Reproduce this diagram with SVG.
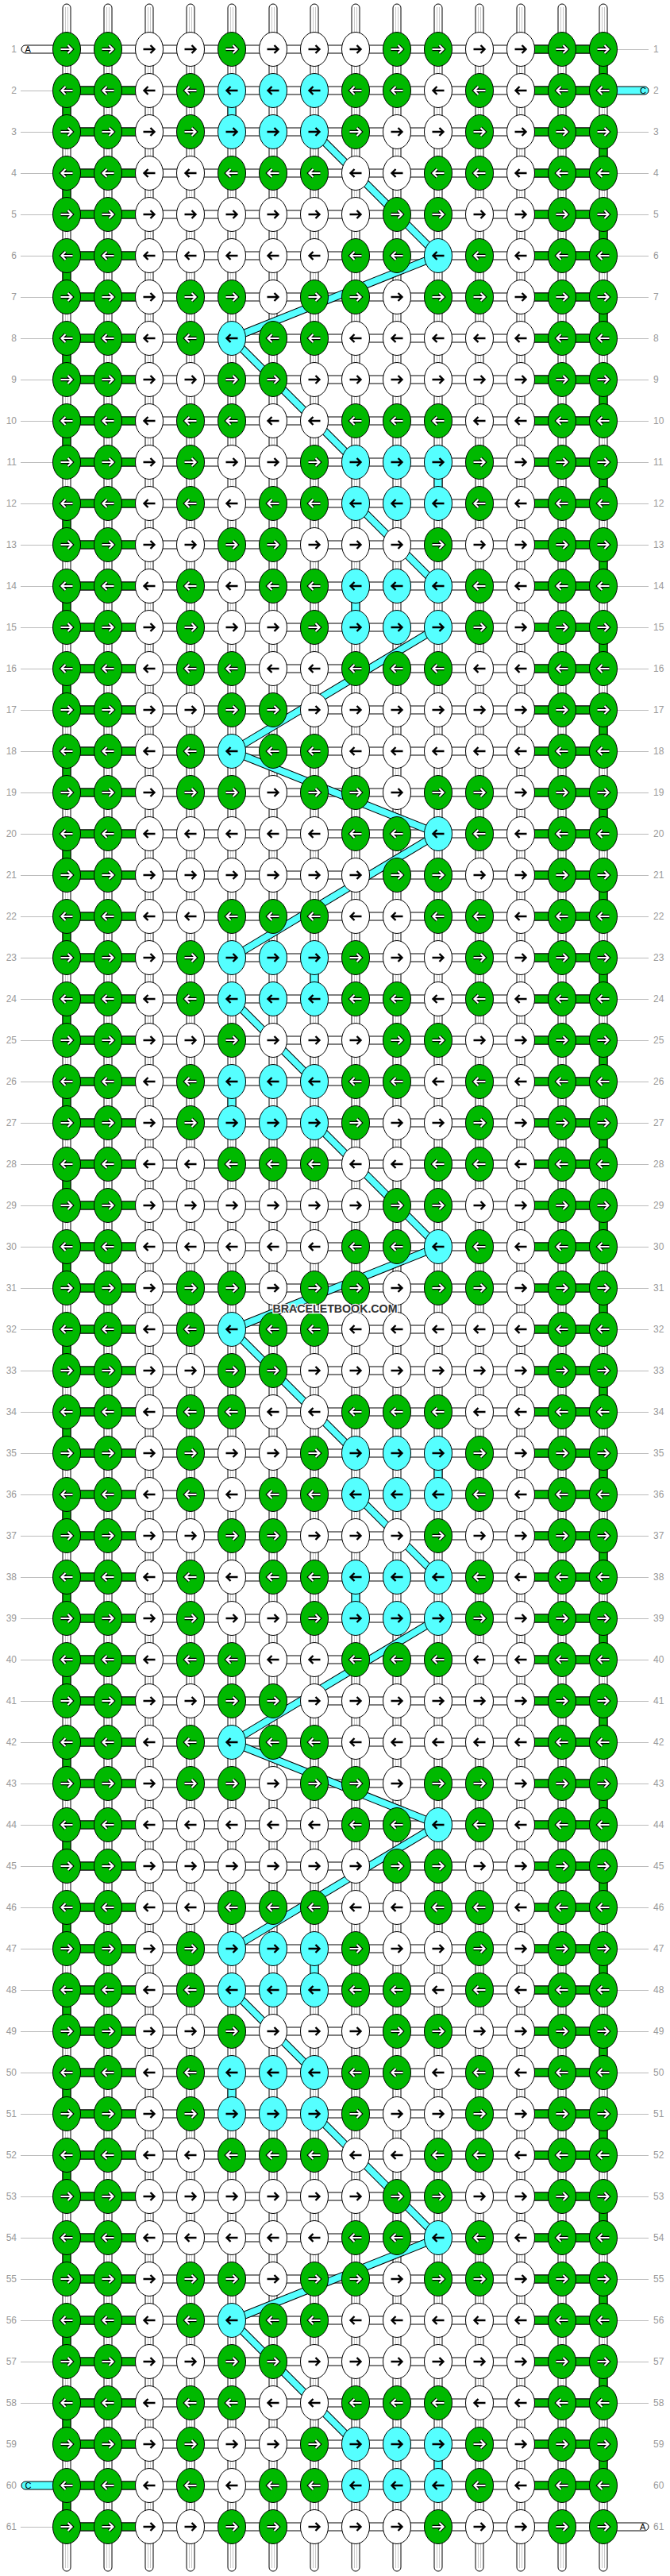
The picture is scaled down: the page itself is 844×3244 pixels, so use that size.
<svg xmlns="http://www.w3.org/2000/svg" xmlns:xlink="http://www.w3.org/1999/xlink" width="844" height="3244" viewBox="0 0 844 3244">
<style>
.kg{fill:#00b900;stroke:#000;stroke-width:1}
.kw{fill:#fff;stroke:#000;stroke-width:1}
.kc{fill:#55ffff;stroke:#000;stroke-width:1}
.ab{fill:none;stroke:#000;stroke-width:2.4}
.ao{fill:none;stroke:#000;stroke-width:4.4}
.ai{fill:none;stroke:#fff;stroke-width:2.2}
.n{font-family:"Liberation Sans",Arial,sans-serif;font-size:12px;fill:#999}
.p{font-family:"Liberation Sans",Arial,sans-serif;font-size:11px;fill:#000}
.gl{stroke:#bbb;stroke-width:1;fill:none}
</style>
<defs>
<path id="a" d="M-7.5,0H6M1.5,-5L6.5,0L1.5,5"/>
<g id="G"><ellipse class="kg" rx="17.5" ry="21.5"/><use href="#a" class="ao"/><use href="#a" class="ai"/></g>
<g id="g"><ellipse class="kg" rx="17.5" ry="21.5"/><g transform="scale(-1,1)"><use href="#a" class="ao"/><use href="#a" class="ai"/></g></g>
<g id="W"><ellipse class="kw" rx="17.5" ry="21.5"/><use href="#a" class="ab"/></g>
<g id="w"><ellipse class="kw" rx="17.5" ry="21.5"/><use href="#a" class="ab" transform="scale(-1,1)"/></g>
<g id="C"><ellipse class="kc" rx="17.5" ry="21.5"/><use href="#a" class="ab"/></g>
<g id="c"><ellipse class="kc" rx="17.5" ry="21.5"/><use href="#a" class="ab" transform="scale(-1,1)"/></g>
<g id="vs"><rect x="-5" y="5" width="10" height="3233" rx="5" fill="#fff" stroke="#000"/><path d="M-1.5,9V3234M1.5,9V3234" stroke="#c8c8c8" stroke-width="1"/></g>
<path id="dg" d="M396,166L552,322L292,426L448,582M448,634L552,738M552,790L292,946L552,1050L292,1206M292,1258L396,1362M396,1414L552,1570L292,1674L448,1830M448,1882L552,1986M552,2038L292,2194L552,2298L292,2454M292,2506L396,2610M396,2662L552,2818L292,2922L448,3078" fill="none" stroke-linejoin="round"/>
</defs>
<g id="connectors">
<g id="vertical-strings">
<use href="#vs" x="84"/><use href="#vs" x="136"/><use href="#vs" x="188"/><use href="#vs" x="240"/><use href="#vs" x="292"/><use href="#vs" x="344"/><use href="#vs" x="396"/><use href="#vs" x="448"/><use href="#vs" x="500"/><use href="#vs" x="552"/><use href="#vs" x="604"/><use href="#vs" x="656"/><use href="#vs" x="708"/><use href="#vs" x="760"/>
</g>
<path id="v-green-left" fill="#00b900" stroke="#000" d="M79,114h10v52h-10z m0,104h10v52h-10z m0,104h10v52h-10z m0,104h10v52h-10z m0,104h10v52h-10z m0,104h10v52h-10z m0,104h10v52h-10z m0,104h10v52h-10z m0,104h10v52h-10z m0,104h10v52h-10z m0,104h10v52h-10z m0,104h10v52h-10z m0,104h10v52h-10z m0,104h10v52h-10z m0,104h10v52h-10z m0,104h10v52h-10z m0,104h10v52h-10z m0,104h10v52h-10z m0,104h10v52h-10z m0,104h10v52h-10z m0,104h10v52h-10z m0,104h10v52h-10z m0,104h10v52h-10z m0,104h10v52h-10z m0,104h10v52h-10z m0,104h10v52h-10z m0,104h10v52h-10z m0,104h10v52h-10z m0,104h10v52h-10z m0,104h10v52h-10z"/>
<path id="v-green-right" fill="#00b900" stroke="#000" d="M755,62h10v52h-10z m0,104h10v52h-10z m0,104h10v52h-10z m0,104h10v52h-10z m0,104h10v52h-10z m0,104h10v52h-10z m0,104h10v52h-10z m0,104h10v52h-10z m0,104h10v52h-10z m0,104h10v52h-10z m0,104h10v52h-10z m0,104h10v52h-10z m0,104h10v52h-10z m0,104h10v52h-10z m0,104h10v52h-10z m0,104h10v52h-10z m0,104h10v52h-10z m0,104h10v52h-10z m0,104h10v52h-10z m0,104h10v52h-10z m0,104h10v52h-10z m0,104h10v52h-10z m0,104h10v52h-10z m0,104h10v52h-10z m0,104h10v52h-10z m0,104h10v52h-10z m0,104h10v52h-10z m0,104h10v52h-10z m0,104h10v52h-10z m0,104h10v52h-10z"/>
<path id="v-cyan" fill="#55ffff" stroke="#000" d="M287,114h10v52h-10z M287,1362h10v52h-10z M287,2610h10v52h-10z M547,582h10v52h-10z M547,1830h10v52h-10z M547,3078h10v52h-10z M443,738h10v52h-10z M443,1986h10v52h-10z M391,1206h10v52h-10z M391,2454h10v52h-10z"/>
<path id="horizontal-strings" fill="#fff" stroke="#000" d="M84,57h676v10h-676z m0,52h676v10h-676z m0,52h676v10h-676z m0,52h676v10h-676z m0,52h676v10h-676z m0,52h676v10h-676z m0,52h676v10h-676z m0,52h676v10h-676z m0,52h676v10h-676z m0,52h676v10h-676z m0,52h676v10h-676z m0,52h676v10h-676z m0,52h676v10h-676z m0,52h676v10h-676z m0,52h676v10h-676z m0,52h676v10h-676z m0,52h676v10h-676z m0,52h676v10h-676z m0,52h676v10h-676z m0,52h676v10h-676z m0,52h676v10h-676z m0,52h676v10h-676z m0,52h676v10h-676z m0,52h676v10h-676z m0,52h676v10h-676z m0,52h676v10h-676z m0,52h676v10h-676z m0,52h676v10h-676z m0,52h676v10h-676z m0,52h676v10h-676z m0,52h676v10h-676z m0,52h676v10h-676z m0,52h676v10h-676z m0,52h676v10h-676z m0,52h676v10h-676z m0,52h676v10h-676z m0,52h676v10h-676z m0,52h676v10h-676z m0,52h676v10h-676z m0,52h676v10h-676z m0,52h676v10h-676z m0,52h676v10h-676z m0,52h676v10h-676z m0,52h676v10h-676z m0,52h676v10h-676z m0,52h676v10h-676z m0,52h676v10h-676z m0,52h676v10h-676z m0,52h676v10h-676z m0,52h676v10h-676z m0,52h676v10h-676z m0,52h676v10h-676z m0,52h676v10h-676z m0,52h676v10h-676z m0,52h676v10h-676z m0,52h676v10h-676z m0,52h676v10h-676z m0,52h676v10h-676z m0,52h676v10h-676z m0,52h676v10h-676z m0,52h676v10h-676z"/>
<path id="h-green-left" fill="#00b900" stroke="#000" d="M84,109h104v10h-104z m0,52h104v10h-104z m0,52h104v10h-104z m0,52h104v10h-104z m0,52h104v10h-104z m0,52h104v10h-104z m0,52h104v10h-104z m0,52h104v10h-104z m0,52h104v10h-104z m0,52h104v10h-104z m0,52h104v10h-104z m0,52h104v10h-104z m0,52h104v10h-104z m0,52h104v10h-104z m0,52h104v10h-104z m0,52h104v10h-104z m0,52h104v10h-104z m0,52h104v10h-104z m0,52h104v10h-104z m0,52h104v10h-104z m0,52h104v10h-104z m0,52h104v10h-104z m0,52h104v10h-104z m0,52h104v10h-104z m0,52h104v10h-104z m0,52h104v10h-104z m0,52h104v10h-104z m0,52h104v10h-104z m0,52h104v10h-104z m0,52h104v10h-104z m0,52h104v10h-104z m0,52h104v10h-104z m0,52h104v10h-104z m0,52h104v10h-104z m0,52h104v10h-104z m0,52h104v10h-104z m0,52h104v10h-104z m0,52h104v10h-104z m0,52h104v10h-104z m0,52h104v10h-104z m0,52h104v10h-104z m0,52h104v10h-104z m0,52h104v10h-104z m0,52h104v10h-104z m0,52h104v10h-104z m0,52h104v10h-104z m0,52h104v10h-104z m0,52h104v10h-104z m0,52h104v10h-104z m0,52h104v10h-104z m0,52h104v10h-104z m0,52h104v10h-104z m0,52h104v10h-104z m0,52h104v10h-104z m0,52h104v10h-104z m0,52h104v10h-104z m0,52h104v10h-104z m0,52h104v10h-104z m0,52h104v10h-104z m0,52h104v10h-104z"/>
<path id="h-green-right" fill="#00b900" stroke="#000" d="M656,57h104v10h-104z m0,52h104v10h-104z m0,52h104v10h-104z m0,52h104v10h-104z m0,52h104v10h-104z m0,52h104v10h-104z m0,52h104v10h-104z m0,52h104v10h-104z m0,52h104v10h-104z m0,52h104v10h-104z m0,52h104v10h-104z m0,52h104v10h-104z m0,52h104v10h-104z m0,52h104v10h-104z m0,52h104v10h-104z m0,52h104v10h-104z m0,52h104v10h-104z m0,52h104v10h-104z m0,52h104v10h-104z m0,52h104v10h-104z m0,52h104v10h-104z m0,52h104v10h-104z m0,52h104v10h-104z m0,52h104v10h-104z m0,52h104v10h-104z m0,52h104v10h-104z m0,52h104v10h-104z m0,52h104v10h-104z m0,52h104v10h-104z m0,52h104v10h-104z m0,52h104v10h-104z m0,52h104v10h-104z m0,52h104v10h-104z m0,52h104v10h-104z m0,52h104v10h-104z m0,52h104v10h-104z m0,52h104v10h-104z m0,52h104v10h-104z m0,52h104v10h-104z m0,52h104v10h-104z m0,52h104v10h-104z m0,52h104v10h-104z m0,52h104v10h-104z m0,52h104v10h-104z m0,52h104v10h-104z m0,52h104v10h-104z m0,52h104v10h-104z m0,52h104v10h-104z m0,52h104v10h-104z m0,52h104v10h-104z m0,52h104v10h-104z m0,52h104v10h-104z m0,52h104v10h-104z m0,52h104v10h-104z m0,52h104v10h-104z m0,52h104v10h-104z m0,52h104v10h-104z m0,52h104v10h-104z m0,52h104v10h-104z m0,52h104v10h-104z"/>
<path id="row-lines-left" class="gl" d="M26,114.5h41 m-41,52h41 m-41,52h41 m-41,52h41 m-41,52h41 m-41,52h41 m-41,52h41 m-41,52h41 m-41,52h41 m-41,52h41 m-41,52h41 m-41,52h41 m-41,52h41 m-41,52h41 m-41,52h41 m-41,52h41 m-41,52h41 m-41,52h41 m-41,52h41 m-41,52h41 m-41,52h41 m-41,52h41 m-41,52h41 m-41,52h41 m-41,52h41 m-41,52h41 m-41,52h41 m-41,52h41 m-41,52h41 m-41,52h41 m-41,52h41 m-41,52h41 m-41,52h41 m-41,52h41 m-41,52h41 m-41,52h41 m-41,52h41 m-41,52h41 m-41,52h41 m-41,52h41 m-41,52h41 m-41,52h41 m-41,52h41 m-41,52h41 m-41,52h41 m-41,52h41 m-41,52h41 m-41,52h41 m-41,52h41 m-41,52h41 m-41,52h41 m-41,52h41 m-41,52h41 m-41,52h41 m-41,52h41 m-41,52h41 m-41,52h41 M26,3182.5h41"/>
<path id="row-lines-right" class="gl" d="M777,62.5h40 M777,166.5h40 m-40,52h40 m-40,52h40 m-40,52h40 m-40,52h40 m-40,52h40 m-40,52h40 m-40,52h40 m-40,52h40 m-40,52h40 m-40,52h40 m-40,52h40 m-40,52h40 m-40,52h40 m-40,52h40 m-40,52h40 m-40,52h40 m-40,52h40 m-40,52h40 m-40,52h40 m-40,52h40 m-40,52h40 m-40,52h40 m-40,52h40 m-40,52h40 m-40,52h40 m-40,52h40 m-40,52h40 m-40,52h40 m-40,52h40 m-40,52h40 m-40,52h40 m-40,52h40 m-40,52h40 m-40,52h40 m-40,52h40 m-40,52h40 m-40,52h40 m-40,52h40 m-40,52h40 m-40,52h40 m-40,52h40 m-40,52h40 m-40,52h40 m-40,52h40 m-40,52h40 m-40,52h40 m-40,52h40 m-40,52h40 m-40,52h40 m-40,52h40 m-40,52h40 m-40,52h40 m-40,52h40 m-40,52h40 m-40,52h40"/>
<g id="string-ends">
<path d="M84,57H32a5,5 0 0 0 0,10H84z" fill="#fff" stroke="#000"/><text class="p" x="31.5" y="66">A</text>
<path d="M760,109H812a5,5 0 0 1 0,10H760z" fill="#55ffff" stroke="#000"/><text class="p" x="806" y="118">C</text>
<path d="M84,3125H32a5,5 0 0 0 0,10H84z" fill="#55ffff" stroke="#000"/><text class="p" x="31.5" y="3134">C</text>
<path d="M760,3177H812a5,5 0 0 1 0,10H760z" fill="#fff" stroke="#000"/><text class="p" x="806" y="3186">A</text>
</g>
<g id="cyan-floats"><use href="#dg" stroke="#000" stroke-width="10"/><use href="#dg" stroke="#55ffff" stroke-width="8"/></g>
</g>
<g id="knots">
<g id="row1" transform="translate(0,62)"><use id="k1-1" href="#G" x="84"/><use id="k1-2" href="#G" x="136"/><use id="k1-3" href="#W" x="188"/><use id="k1-4" href="#W" x="240"/><use id="k1-5" href="#G" x="292"/><use id="k1-6" href="#W" x="344"/><use id="k1-7" href="#W" x="396"/><use id="k1-8" href="#W" x="448"/><use id="k1-9" href="#G" x="500"/><use id="k1-10" href="#G" x="552"/><use id="k1-11" href="#W" x="604"/><use id="k1-12" href="#W" x="656"/><use id="k1-13" href="#G" x="708"/><use id="k1-14" href="#G" x="760"/></g>
<g id="row2" transform="translate(0,114)"><use id="k2-1" href="#g" x="84"/><use id="k2-2" href="#g" x="136"/><use id="k2-3" href="#w" x="188"/><use id="k2-4" href="#g" x="240"/><use id="k2-5" href="#c" x="292"/><use id="k2-6" href="#c" x="344"/><use id="k2-7" href="#c" x="396"/><use id="k2-8" href="#g" x="448"/><use id="k2-9" href="#g" x="500"/><use id="k2-10" href="#w" x="552"/><use id="k2-11" href="#g" x="604"/><use id="k2-12" href="#w" x="656"/><use id="k2-13" href="#g" x="708"/><use id="k2-14" href="#g" x="760"/></g>
<g id="row3" transform="translate(0,166)"><use id="k3-1" href="#G" x="84"/><use id="k3-2" href="#G" x="136"/><use id="k3-3" href="#W" x="188"/><use id="k3-4" href="#G" x="240"/><use id="k3-5" href="#C" x="292"/><use id="k3-6" href="#C" x="344"/><use id="k3-7" href="#C" x="396"/><use id="k3-8" href="#G" x="448"/><use id="k3-9" href="#W" x="500"/><use id="k3-10" href="#W" x="552"/><use id="k3-11" href="#G" x="604"/><use id="k3-12" href="#W" x="656"/><use id="k3-13" href="#G" x="708"/><use id="k3-14" href="#G" x="760"/></g>
<g id="row4" transform="translate(0,218)"><use id="k4-1" href="#g" x="84"/><use id="k4-2" href="#g" x="136"/><use id="k4-3" href="#w" x="188"/><use id="k4-4" href="#w" x="240"/><use id="k4-5" href="#g" x="292"/><use id="k4-6" href="#g" x="344"/><use id="k4-7" href="#g" x="396"/><use id="k4-8" href="#w" x="448"/><use id="k4-9" href="#w" x="500"/><use id="k4-10" href="#g" x="552"/><use id="k4-11" href="#g" x="604"/><use id="k4-12" href="#w" x="656"/><use id="k4-13" href="#g" x="708"/><use id="k4-14" href="#g" x="760"/></g>
<g id="row5" transform="translate(0,270)"><use id="k5-1" href="#G" x="84"/><use id="k5-2" href="#G" x="136"/><use id="k5-3" href="#W" x="188"/><use id="k5-4" href="#W" x="240"/><use id="k5-5" href="#W" x="292"/><use id="k5-6" href="#W" x="344"/><use id="k5-7" href="#W" x="396"/><use id="k5-8" href="#W" x="448"/><use id="k5-9" href="#G" x="500"/><use id="k5-10" href="#G" x="552"/><use id="k5-11" href="#W" x="604"/><use id="k5-12" href="#W" x="656"/><use id="k5-13" href="#G" x="708"/><use id="k5-14" href="#G" x="760"/></g>
<g id="row6" transform="translate(0,322)"><use id="k6-1" href="#g" x="84"/><use id="k6-2" href="#g" x="136"/><use id="k6-3" href="#w" x="188"/><use id="k6-4" href="#w" x="240"/><use id="k6-5" href="#w" x="292"/><use id="k6-6" href="#w" x="344"/><use id="k6-7" href="#w" x="396"/><use id="k6-8" href="#g" x="448"/><use id="k6-9" href="#g" x="500"/><use id="k6-10" href="#c" x="552"/><use id="k6-11" href="#g" x="604"/><use id="k6-12" href="#w" x="656"/><use id="k6-13" href="#g" x="708"/><use id="k6-14" href="#g" x="760"/></g>
<g id="row7" transform="translate(0,374)"><use id="k7-1" href="#G" x="84"/><use id="k7-2" href="#G" x="136"/><use id="k7-3" href="#W" x="188"/><use id="k7-4" href="#G" x="240"/><use id="k7-5" href="#G" x="292"/><use id="k7-6" href="#W" x="344"/><use id="k7-7" href="#G" x="396"/><use id="k7-8" href="#G" x="448"/><use id="k7-9" href="#W" x="500"/><use id="k7-10" href="#G" x="552"/><use id="k7-11" href="#G" x="604"/><use id="k7-12" href="#W" x="656"/><use id="k7-13" href="#G" x="708"/><use id="k7-14" href="#G" x="760"/></g>
<g id="row8" transform="translate(0,426)"><use id="k8-1" href="#g" x="84"/><use id="k8-2" href="#g" x="136"/><use id="k8-3" href="#w" x="188"/><use id="k8-4" href="#g" x="240"/><use id="k8-5" href="#c" x="292"/><use id="k8-6" href="#g" x="344"/><use id="k8-7" href="#g" x="396"/><use id="k8-8" href="#w" x="448"/><use id="k8-9" href="#w" x="500"/><use id="k8-10" href="#w" x="552"/><use id="k8-11" href="#w" x="604"/><use id="k8-12" href="#w" x="656"/><use id="k8-13" href="#g" x="708"/><use id="k8-14" href="#g" x="760"/></g>
<g id="row9" transform="translate(0,478)"><use id="k9-1" href="#G" x="84"/><use id="k9-2" href="#G" x="136"/><use id="k9-3" href="#W" x="188"/><use id="k9-4" href="#W" x="240"/><use id="k9-5" href="#G" x="292"/><use id="k9-6" href="#G" x="344"/><use id="k9-7" href="#W" x="396"/><use id="k9-8" href="#W" x="448"/><use id="k9-9" href="#W" x="500"/><use id="k9-10" href="#W" x="552"/><use id="k9-11" href="#W" x="604"/><use id="k9-12" href="#W" x="656"/><use id="k9-13" href="#G" x="708"/><use id="k9-14" href="#G" x="760"/></g>
<g id="row10" transform="translate(0,530)"><use id="k10-1" href="#g" x="84"/><use id="k10-2" href="#g" x="136"/><use id="k10-3" href="#w" x="188"/><use id="k10-4" href="#g" x="240"/><use id="k10-5" href="#g" x="292"/><use id="k10-6" href="#w" x="344"/><use id="k10-7" href="#w" x="396"/><use id="k10-8" href="#g" x="448"/><use id="k10-9" href="#g" x="500"/><use id="k10-10" href="#g" x="552"/><use id="k10-11" href="#w" x="604"/><use id="k10-12" href="#w" x="656"/><use id="k10-13" href="#g" x="708"/><use id="k10-14" href="#g" x="760"/></g>
<g id="row11" transform="translate(0,582)"><use id="k11-1" href="#G" x="84"/><use id="k11-2" href="#G" x="136"/><use id="k11-3" href="#W" x="188"/><use id="k11-4" href="#G" x="240"/><use id="k11-5" href="#W" x="292"/><use id="k11-6" href="#W" x="344"/><use id="k11-7" href="#G" x="396"/><use id="k11-8" href="#C" x="448"/><use id="k11-9" href="#C" x="500"/><use id="k11-10" href="#C" x="552"/><use id="k11-11" href="#G" x="604"/><use id="k11-12" href="#W" x="656"/><use id="k11-13" href="#G" x="708"/><use id="k11-14" href="#G" x="760"/></g>
<g id="row12" transform="translate(0,634)"><use id="k12-1" href="#g" x="84"/><use id="k12-2" href="#g" x="136"/><use id="k12-3" href="#w" x="188"/><use id="k12-4" href="#g" x="240"/><use id="k12-5" href="#w" x="292"/><use id="k12-6" href="#g" x="344"/><use id="k12-7" href="#g" x="396"/><use id="k12-8" href="#c" x="448"/><use id="k12-9" href="#c" x="500"/><use id="k12-10" href="#c" x="552"/><use id="k12-11" href="#g" x="604"/><use id="k12-12" href="#w" x="656"/><use id="k12-13" href="#g" x="708"/><use id="k12-14" href="#g" x="760"/></g>
<g id="row13" transform="translate(0,686)"><use id="k13-1" href="#G" x="84"/><use id="k13-2" href="#G" x="136"/><use id="k13-3" href="#W" x="188"/><use id="k13-4" href="#W" x="240"/><use id="k13-5" href="#G" x="292"/><use id="k13-6" href="#G" x="344"/><use id="k13-7" href="#W" x="396"/><use id="k13-8" href="#W" x="448"/><use id="k13-9" href="#W" x="500"/><use id="k13-10" href="#G" x="552"/><use id="k13-11" href="#W" x="604"/><use id="k13-12" href="#W" x="656"/><use id="k13-13" href="#G" x="708"/><use id="k13-14" href="#G" x="760"/></g>
<g id="row14" transform="translate(0,738)"><use id="k14-1" href="#g" x="84"/><use id="k14-2" href="#g" x="136"/><use id="k14-3" href="#w" x="188"/><use id="k14-4" href="#g" x="240"/><use id="k14-5" href="#w" x="292"/><use id="k14-6" href="#g" x="344"/><use id="k14-7" href="#g" x="396"/><use id="k14-8" href="#c" x="448"/><use id="k14-9" href="#c" x="500"/><use id="k14-10" href="#c" x="552"/><use id="k14-11" href="#g" x="604"/><use id="k14-12" href="#w" x="656"/><use id="k14-13" href="#g" x="708"/><use id="k14-14" href="#g" x="760"/></g>
<g id="row15" transform="translate(0,790)"><use id="k15-1" href="#G" x="84"/><use id="k15-2" href="#G" x="136"/><use id="k15-3" href="#W" x="188"/><use id="k15-4" href="#G" x="240"/><use id="k15-5" href="#W" x="292"/><use id="k15-6" href="#W" x="344"/><use id="k15-7" href="#G" x="396"/><use id="k15-8" href="#C" x="448"/><use id="k15-9" href="#C" x="500"/><use id="k15-10" href="#C" x="552"/><use id="k15-11" href="#G" x="604"/><use id="k15-12" href="#W" x="656"/><use id="k15-13" href="#G" x="708"/><use id="k15-14" href="#G" x="760"/></g>
<g id="row16" transform="translate(0,842)"><use id="k16-1" href="#g" x="84"/><use id="k16-2" href="#g" x="136"/><use id="k16-3" href="#w" x="188"/><use id="k16-4" href="#g" x="240"/><use id="k16-5" href="#g" x="292"/><use id="k16-6" href="#w" x="344"/><use id="k16-7" href="#w" x="396"/><use id="k16-8" href="#g" x="448"/><use id="k16-9" href="#g" x="500"/><use id="k16-10" href="#g" x="552"/><use id="k16-11" href="#w" x="604"/><use id="k16-12" href="#w" x="656"/><use id="k16-13" href="#g" x="708"/><use id="k16-14" href="#g" x="760"/></g>
<g id="row17" transform="translate(0,894)"><use id="k17-1" href="#G" x="84"/><use id="k17-2" href="#G" x="136"/><use id="k17-3" href="#W" x="188"/><use id="k17-4" href="#W" x="240"/><use id="k17-5" href="#G" x="292"/><use id="k17-6" href="#G" x="344"/><use id="k17-7" href="#W" x="396"/><use id="k17-8" href="#W" x="448"/><use id="k17-9" href="#W" x="500"/><use id="k17-10" href="#W" x="552"/><use id="k17-11" href="#W" x="604"/><use id="k17-12" href="#W" x="656"/><use id="k17-13" href="#G" x="708"/><use id="k17-14" href="#G" x="760"/></g>
<g id="row18" transform="translate(0,946)"><use id="k18-1" href="#g" x="84"/><use id="k18-2" href="#g" x="136"/><use id="k18-3" href="#w" x="188"/><use id="k18-4" href="#g" x="240"/><use id="k18-5" href="#c" x="292"/><use id="k18-6" href="#g" x="344"/><use id="k18-7" href="#g" x="396"/><use id="k18-8" href="#w" x="448"/><use id="k18-9" href="#w" x="500"/><use id="k18-10" href="#w" x="552"/><use id="k18-11" href="#w" x="604"/><use id="k18-12" href="#w" x="656"/><use id="k18-13" href="#g" x="708"/><use id="k18-14" href="#g" x="760"/></g>
<g id="row19" transform="translate(0,998)"><use id="k19-1" href="#G" x="84"/><use id="k19-2" href="#G" x="136"/><use id="k19-3" href="#W" x="188"/><use id="k19-4" href="#G" x="240"/><use id="k19-5" href="#G" x="292"/><use id="k19-6" href="#W" x="344"/><use id="k19-7" href="#G" x="396"/><use id="k19-8" href="#G" x="448"/><use id="k19-9" href="#W" x="500"/><use id="k19-10" href="#G" x="552"/><use id="k19-11" href="#G" x="604"/><use id="k19-12" href="#W" x="656"/><use id="k19-13" href="#G" x="708"/><use id="k19-14" href="#G" x="760"/></g>
<g id="row20" transform="translate(0,1050)"><use id="k20-1" href="#g" x="84"/><use id="k20-2" href="#g" x="136"/><use id="k20-3" href="#w" x="188"/><use id="k20-4" href="#w" x="240"/><use id="k20-5" href="#w" x="292"/><use id="k20-6" href="#w" x="344"/><use id="k20-7" href="#w" x="396"/><use id="k20-8" href="#g" x="448"/><use id="k20-9" href="#g" x="500"/><use id="k20-10" href="#c" x="552"/><use id="k20-11" href="#g" x="604"/><use id="k20-12" href="#w" x="656"/><use id="k20-13" href="#g" x="708"/><use id="k20-14" href="#g" x="760"/></g>
<g id="row21" transform="translate(0,1102)"><use id="k21-1" href="#G" x="84"/><use id="k21-2" href="#G" x="136"/><use id="k21-3" href="#W" x="188"/><use id="k21-4" href="#W" x="240"/><use id="k21-5" href="#W" x="292"/><use id="k21-6" href="#W" x="344"/><use id="k21-7" href="#W" x="396"/><use id="k21-8" href="#W" x="448"/><use id="k21-9" href="#G" x="500"/><use id="k21-10" href="#G" x="552"/><use id="k21-11" href="#W" x="604"/><use id="k21-12" href="#W" x="656"/><use id="k21-13" href="#G" x="708"/><use id="k21-14" href="#G" x="760"/></g>
<g id="row22" transform="translate(0,1154)"><use id="k22-1" href="#g" x="84"/><use id="k22-2" href="#g" x="136"/><use id="k22-3" href="#w" x="188"/><use id="k22-4" href="#w" x="240"/><use id="k22-5" href="#g" x="292"/><use id="k22-6" href="#g" x="344"/><use id="k22-7" href="#g" x="396"/><use id="k22-8" href="#w" x="448"/><use id="k22-9" href="#w" x="500"/><use id="k22-10" href="#g" x="552"/><use id="k22-11" href="#g" x="604"/><use id="k22-12" href="#w" x="656"/><use id="k22-13" href="#g" x="708"/><use id="k22-14" href="#g" x="760"/></g>
<g id="row23" transform="translate(0,1206)"><use id="k23-1" href="#G" x="84"/><use id="k23-2" href="#G" x="136"/><use id="k23-3" href="#W" x="188"/><use id="k23-4" href="#G" x="240"/><use id="k23-5" href="#C" x="292"/><use id="k23-6" href="#C" x="344"/><use id="k23-7" href="#C" x="396"/><use id="k23-8" href="#G" x="448"/><use id="k23-9" href="#W" x="500"/><use id="k23-10" href="#W" x="552"/><use id="k23-11" href="#G" x="604"/><use id="k23-12" href="#W" x="656"/><use id="k23-13" href="#G" x="708"/><use id="k23-14" href="#G" x="760"/></g>
<g id="row24" transform="translate(0,1258)"><use id="k24-1" href="#g" x="84"/><use id="k24-2" href="#g" x="136"/><use id="k24-3" href="#w" x="188"/><use id="k24-4" href="#g" x="240"/><use id="k24-5" href="#c" x="292"/><use id="k24-6" href="#c" x="344"/><use id="k24-7" href="#c" x="396"/><use id="k24-8" href="#g" x="448"/><use id="k24-9" href="#g" x="500"/><use id="k24-10" href="#w" x="552"/><use id="k24-11" href="#g" x="604"/><use id="k24-12" href="#w" x="656"/><use id="k24-13" href="#g" x="708"/><use id="k24-14" href="#g" x="760"/></g>
<g id="row25" transform="translate(0,1310)"><use id="k25-1" href="#G" x="84"/><use id="k25-2" href="#G" x="136"/><use id="k25-3" href="#W" x="188"/><use id="k25-4" href="#W" x="240"/><use id="k25-5" href="#G" x="292"/><use id="k25-6" href="#W" x="344"/><use id="k25-7" href="#W" x="396"/><use id="k25-8" href="#W" x="448"/><use id="k25-9" href="#G" x="500"/><use id="k25-10" href="#G" x="552"/><use id="k25-11" href="#W" x="604"/><use id="k25-12" href="#W" x="656"/><use id="k25-13" href="#G" x="708"/><use id="k25-14" href="#G" x="760"/></g>
<g id="row26" transform="translate(0,1362)"><use id="k26-1" href="#g" x="84"/><use id="k26-2" href="#g" x="136"/><use id="k26-3" href="#w" x="188"/><use id="k26-4" href="#g" x="240"/><use id="k26-5" href="#c" x="292"/><use id="k26-6" href="#c" x="344"/><use id="k26-7" href="#c" x="396"/><use id="k26-8" href="#g" x="448"/><use id="k26-9" href="#g" x="500"/><use id="k26-10" href="#w" x="552"/><use id="k26-11" href="#g" x="604"/><use id="k26-12" href="#w" x="656"/><use id="k26-13" href="#g" x="708"/><use id="k26-14" href="#g" x="760"/></g>
<g id="row27" transform="translate(0,1414)"><use id="k27-1" href="#G" x="84"/><use id="k27-2" href="#G" x="136"/><use id="k27-3" href="#W" x="188"/><use id="k27-4" href="#G" x="240"/><use id="k27-5" href="#C" x="292"/><use id="k27-6" href="#C" x="344"/><use id="k27-7" href="#C" x="396"/><use id="k27-8" href="#G" x="448"/><use id="k27-9" href="#W" x="500"/><use id="k27-10" href="#W" x="552"/><use id="k27-11" href="#G" x="604"/><use id="k27-12" href="#W" x="656"/><use id="k27-13" href="#G" x="708"/><use id="k27-14" href="#G" x="760"/></g>
<g id="row28" transform="translate(0,1466)"><use id="k28-1" href="#g" x="84"/><use id="k28-2" href="#g" x="136"/><use id="k28-3" href="#w" x="188"/><use id="k28-4" href="#w" x="240"/><use id="k28-5" href="#g" x="292"/><use id="k28-6" href="#g" x="344"/><use id="k28-7" href="#g" x="396"/><use id="k28-8" href="#w" x="448"/><use id="k28-9" href="#w" x="500"/><use id="k28-10" href="#g" x="552"/><use id="k28-11" href="#g" x="604"/><use id="k28-12" href="#w" x="656"/><use id="k28-13" href="#g" x="708"/><use id="k28-14" href="#g" x="760"/></g>
<g id="row29" transform="translate(0,1518)"><use id="k29-1" href="#G" x="84"/><use id="k29-2" href="#G" x="136"/><use id="k29-3" href="#W" x="188"/><use id="k29-4" href="#W" x="240"/><use id="k29-5" href="#W" x="292"/><use id="k29-6" href="#W" x="344"/><use id="k29-7" href="#W" x="396"/><use id="k29-8" href="#W" x="448"/><use id="k29-9" href="#G" x="500"/><use id="k29-10" href="#G" x="552"/><use id="k29-11" href="#W" x="604"/><use id="k29-12" href="#W" x="656"/><use id="k29-13" href="#G" x="708"/><use id="k29-14" href="#G" x="760"/></g>
<g id="row30" transform="translate(0,1570)"><use id="k30-1" href="#g" x="84"/><use id="k30-2" href="#g" x="136"/><use id="k30-3" href="#w" x="188"/><use id="k30-4" href="#w" x="240"/><use id="k30-5" href="#w" x="292"/><use id="k30-6" href="#w" x="344"/><use id="k30-7" href="#w" x="396"/><use id="k30-8" href="#g" x="448"/><use id="k30-9" href="#g" x="500"/><use id="k30-10" href="#c" x="552"/><use id="k30-11" href="#g" x="604"/><use id="k30-12" href="#w" x="656"/><use id="k30-13" href="#g" x="708"/><use id="k30-14" href="#g" x="760"/></g>
<g id="row31" transform="translate(0,1622)"><use id="k31-1" href="#G" x="84"/><use id="k31-2" href="#G" x="136"/><use id="k31-3" href="#W" x="188"/><use id="k31-4" href="#G" x="240"/><use id="k31-5" href="#G" x="292"/><use id="k31-6" href="#W" x="344"/><use id="k31-7" href="#G" x="396"/><use id="k31-8" href="#G" x="448"/><use id="k31-9" href="#W" x="500"/><use id="k31-10" href="#G" x="552"/><use id="k31-11" href="#G" x="604"/><use id="k31-12" href="#W" x="656"/><use id="k31-13" href="#G" x="708"/><use id="k31-14" href="#G" x="760"/></g>
<g id="row32" transform="translate(0,1674)"><use id="k32-1" href="#g" x="84"/><use id="k32-2" href="#g" x="136"/><use id="k32-3" href="#w" x="188"/><use id="k32-4" href="#g" x="240"/><use id="k32-5" href="#c" x="292"/><use id="k32-6" href="#g" x="344"/><use id="k32-7" href="#g" x="396"/><use id="k32-8" href="#w" x="448"/><use id="k32-9" href="#w" x="500"/><use id="k32-10" href="#w" x="552"/><use id="k32-11" href="#w" x="604"/><use id="k32-12" href="#w" x="656"/><use id="k32-13" href="#g" x="708"/><use id="k32-14" href="#g" x="760"/></g>
<g id="row33" transform="translate(0,1726)"><use id="k33-1" href="#G" x="84"/><use id="k33-2" href="#G" x="136"/><use id="k33-3" href="#W" x="188"/><use id="k33-4" href="#W" x="240"/><use id="k33-5" href="#G" x="292"/><use id="k33-6" href="#G" x="344"/><use id="k33-7" href="#W" x="396"/><use id="k33-8" href="#W" x="448"/><use id="k33-9" href="#W" x="500"/><use id="k33-10" href="#W" x="552"/><use id="k33-11" href="#W" x="604"/><use id="k33-12" href="#W" x="656"/><use id="k33-13" href="#G" x="708"/><use id="k33-14" href="#G" x="760"/></g>
<g id="row34" transform="translate(0,1778)"><use id="k34-1" href="#g" x="84"/><use id="k34-2" href="#g" x="136"/><use id="k34-3" href="#w" x="188"/><use id="k34-4" href="#g" x="240"/><use id="k34-5" href="#g" x="292"/><use id="k34-6" href="#w" x="344"/><use id="k34-7" href="#w" x="396"/><use id="k34-8" href="#g" x="448"/><use id="k34-9" href="#g" x="500"/><use id="k34-10" href="#g" x="552"/><use id="k34-11" href="#w" x="604"/><use id="k34-12" href="#w" x="656"/><use id="k34-13" href="#g" x="708"/><use id="k34-14" href="#g" x="760"/></g>
<g id="row35" transform="translate(0,1830)"><use id="k35-1" href="#G" x="84"/><use id="k35-2" href="#G" x="136"/><use id="k35-3" href="#W" x="188"/><use id="k35-4" href="#G" x="240"/><use id="k35-5" href="#W" x="292"/><use id="k35-6" href="#W" x="344"/><use id="k35-7" href="#G" x="396"/><use id="k35-8" href="#C" x="448"/><use id="k35-9" href="#C" x="500"/><use id="k35-10" href="#C" x="552"/><use id="k35-11" href="#G" x="604"/><use id="k35-12" href="#W" x="656"/><use id="k35-13" href="#G" x="708"/><use id="k35-14" href="#G" x="760"/></g>
<g id="row36" transform="translate(0,1882)"><use id="k36-1" href="#g" x="84"/><use id="k36-2" href="#g" x="136"/><use id="k36-3" href="#w" x="188"/><use id="k36-4" href="#g" x="240"/><use id="k36-5" href="#w" x="292"/><use id="k36-6" href="#g" x="344"/><use id="k36-7" href="#g" x="396"/><use id="k36-8" href="#c" x="448"/><use id="k36-9" href="#c" x="500"/><use id="k36-10" href="#c" x="552"/><use id="k36-11" href="#g" x="604"/><use id="k36-12" href="#w" x="656"/><use id="k36-13" href="#g" x="708"/><use id="k36-14" href="#g" x="760"/></g>
<g id="row37" transform="translate(0,1934)"><use id="k37-1" href="#G" x="84"/><use id="k37-2" href="#G" x="136"/><use id="k37-3" href="#W" x="188"/><use id="k37-4" href="#W" x="240"/><use id="k37-5" href="#G" x="292"/><use id="k37-6" href="#G" x="344"/><use id="k37-7" href="#W" x="396"/><use id="k37-8" href="#W" x="448"/><use id="k37-9" href="#W" x="500"/><use id="k37-10" href="#G" x="552"/><use id="k37-11" href="#W" x="604"/><use id="k37-12" href="#W" x="656"/><use id="k37-13" href="#G" x="708"/><use id="k37-14" href="#G" x="760"/></g>
<g id="row38" transform="translate(0,1986)"><use id="k38-1" href="#g" x="84"/><use id="k38-2" href="#g" x="136"/><use id="k38-3" href="#w" x="188"/><use id="k38-4" href="#g" x="240"/><use id="k38-5" href="#w" x="292"/><use id="k38-6" href="#g" x="344"/><use id="k38-7" href="#g" x="396"/><use id="k38-8" href="#c" x="448"/><use id="k38-9" href="#c" x="500"/><use id="k38-10" href="#c" x="552"/><use id="k38-11" href="#g" x="604"/><use id="k38-12" href="#w" x="656"/><use id="k38-13" href="#g" x="708"/><use id="k38-14" href="#g" x="760"/></g>
<g id="row39" transform="translate(0,2038)"><use id="k39-1" href="#G" x="84"/><use id="k39-2" href="#G" x="136"/><use id="k39-3" href="#W" x="188"/><use id="k39-4" href="#G" x="240"/><use id="k39-5" href="#W" x="292"/><use id="k39-6" href="#W" x="344"/><use id="k39-7" href="#G" x="396"/><use id="k39-8" href="#C" x="448"/><use id="k39-9" href="#C" x="500"/><use id="k39-10" href="#C" x="552"/><use id="k39-11" href="#G" x="604"/><use id="k39-12" href="#W" x="656"/><use id="k39-13" href="#G" x="708"/><use id="k39-14" href="#G" x="760"/></g>
<g id="row40" transform="translate(0,2090)"><use id="k40-1" href="#g" x="84"/><use id="k40-2" href="#g" x="136"/><use id="k40-3" href="#w" x="188"/><use id="k40-4" href="#g" x="240"/><use id="k40-5" href="#g" x="292"/><use id="k40-6" href="#w" x="344"/><use id="k40-7" href="#w" x="396"/><use id="k40-8" href="#g" x="448"/><use id="k40-9" href="#g" x="500"/><use id="k40-10" href="#g" x="552"/><use id="k40-11" href="#w" x="604"/><use id="k40-12" href="#w" x="656"/><use id="k40-13" href="#g" x="708"/><use id="k40-14" href="#g" x="760"/></g>
<g id="row41" transform="translate(0,2142)"><use id="k41-1" href="#G" x="84"/><use id="k41-2" href="#G" x="136"/><use id="k41-3" href="#W" x="188"/><use id="k41-4" href="#W" x="240"/><use id="k41-5" href="#G" x="292"/><use id="k41-6" href="#G" x="344"/><use id="k41-7" href="#W" x="396"/><use id="k41-8" href="#W" x="448"/><use id="k41-9" href="#W" x="500"/><use id="k41-10" href="#W" x="552"/><use id="k41-11" href="#W" x="604"/><use id="k41-12" href="#W" x="656"/><use id="k41-13" href="#G" x="708"/><use id="k41-14" href="#G" x="760"/></g>
<g id="row42" transform="translate(0,2194)"><use id="k42-1" href="#g" x="84"/><use id="k42-2" href="#g" x="136"/><use id="k42-3" href="#w" x="188"/><use id="k42-4" href="#g" x="240"/><use id="k42-5" href="#c" x="292"/><use id="k42-6" href="#g" x="344"/><use id="k42-7" href="#g" x="396"/><use id="k42-8" href="#w" x="448"/><use id="k42-9" href="#w" x="500"/><use id="k42-10" href="#w" x="552"/><use id="k42-11" href="#w" x="604"/><use id="k42-12" href="#w" x="656"/><use id="k42-13" href="#g" x="708"/><use id="k42-14" href="#g" x="760"/></g>
<g id="row43" transform="translate(0,2246)"><use id="k43-1" href="#G" x="84"/><use id="k43-2" href="#G" x="136"/><use id="k43-3" href="#W" x="188"/><use id="k43-4" href="#G" x="240"/><use id="k43-5" href="#G" x="292"/><use id="k43-6" href="#W" x="344"/><use id="k43-7" href="#G" x="396"/><use id="k43-8" href="#G" x="448"/><use id="k43-9" href="#W" x="500"/><use id="k43-10" href="#G" x="552"/><use id="k43-11" href="#G" x="604"/><use id="k43-12" href="#W" x="656"/><use id="k43-13" href="#G" x="708"/><use id="k43-14" href="#G" x="760"/></g>
<g id="row44" transform="translate(0,2298)"><use id="k44-1" href="#g" x="84"/><use id="k44-2" href="#g" x="136"/><use id="k44-3" href="#w" x="188"/><use id="k44-4" href="#w" x="240"/><use id="k44-5" href="#w" x="292"/><use id="k44-6" href="#w" x="344"/><use id="k44-7" href="#w" x="396"/><use id="k44-8" href="#g" x="448"/><use id="k44-9" href="#g" x="500"/><use id="k44-10" href="#c" x="552"/><use id="k44-11" href="#g" x="604"/><use id="k44-12" href="#w" x="656"/><use id="k44-13" href="#g" x="708"/><use id="k44-14" href="#g" x="760"/></g>
<g id="row45" transform="translate(0,2350)"><use id="k45-1" href="#G" x="84"/><use id="k45-2" href="#G" x="136"/><use id="k45-3" href="#W" x="188"/><use id="k45-4" href="#W" x="240"/><use id="k45-5" href="#W" x="292"/><use id="k45-6" href="#W" x="344"/><use id="k45-7" href="#W" x="396"/><use id="k45-8" href="#W" x="448"/><use id="k45-9" href="#G" x="500"/><use id="k45-10" href="#G" x="552"/><use id="k45-11" href="#W" x="604"/><use id="k45-12" href="#W" x="656"/><use id="k45-13" href="#G" x="708"/><use id="k45-14" href="#G" x="760"/></g>
<g id="row46" transform="translate(0,2402)"><use id="k46-1" href="#g" x="84"/><use id="k46-2" href="#g" x="136"/><use id="k46-3" href="#w" x="188"/><use id="k46-4" href="#w" x="240"/><use id="k46-5" href="#g" x="292"/><use id="k46-6" href="#g" x="344"/><use id="k46-7" href="#g" x="396"/><use id="k46-8" href="#w" x="448"/><use id="k46-9" href="#w" x="500"/><use id="k46-10" href="#g" x="552"/><use id="k46-11" href="#g" x="604"/><use id="k46-12" href="#w" x="656"/><use id="k46-13" href="#g" x="708"/><use id="k46-14" href="#g" x="760"/></g>
<g id="row47" transform="translate(0,2454)"><use id="k47-1" href="#G" x="84"/><use id="k47-2" href="#G" x="136"/><use id="k47-3" href="#W" x="188"/><use id="k47-4" href="#G" x="240"/><use id="k47-5" href="#C" x="292"/><use id="k47-6" href="#C" x="344"/><use id="k47-7" href="#C" x="396"/><use id="k47-8" href="#G" x="448"/><use id="k47-9" href="#W" x="500"/><use id="k47-10" href="#W" x="552"/><use id="k47-11" href="#G" x="604"/><use id="k47-12" href="#W" x="656"/><use id="k47-13" href="#G" x="708"/><use id="k47-14" href="#G" x="760"/></g>
<g id="row48" transform="translate(0,2506)"><use id="k48-1" href="#g" x="84"/><use id="k48-2" href="#g" x="136"/><use id="k48-3" href="#w" x="188"/><use id="k48-4" href="#g" x="240"/><use id="k48-5" href="#c" x="292"/><use id="k48-6" href="#c" x="344"/><use id="k48-7" href="#c" x="396"/><use id="k48-8" href="#g" x="448"/><use id="k48-9" href="#g" x="500"/><use id="k48-10" href="#w" x="552"/><use id="k48-11" href="#g" x="604"/><use id="k48-12" href="#w" x="656"/><use id="k48-13" href="#g" x="708"/><use id="k48-14" href="#g" x="760"/></g>
<g id="row49" transform="translate(0,2558)"><use id="k49-1" href="#G" x="84"/><use id="k49-2" href="#G" x="136"/><use id="k49-3" href="#W" x="188"/><use id="k49-4" href="#W" x="240"/><use id="k49-5" href="#G" x="292"/><use id="k49-6" href="#W" x="344"/><use id="k49-7" href="#W" x="396"/><use id="k49-8" href="#W" x="448"/><use id="k49-9" href="#G" x="500"/><use id="k49-10" href="#G" x="552"/><use id="k49-11" href="#W" x="604"/><use id="k49-12" href="#W" x="656"/><use id="k49-13" href="#G" x="708"/><use id="k49-14" href="#G" x="760"/></g>
<g id="row50" transform="translate(0,2610)"><use id="k50-1" href="#g" x="84"/><use id="k50-2" href="#g" x="136"/><use id="k50-3" href="#w" x="188"/><use id="k50-4" href="#g" x="240"/><use id="k50-5" href="#c" x="292"/><use id="k50-6" href="#c" x="344"/><use id="k50-7" href="#c" x="396"/><use id="k50-8" href="#g" x="448"/><use id="k50-9" href="#g" x="500"/><use id="k50-10" href="#w" x="552"/><use id="k50-11" href="#g" x="604"/><use id="k50-12" href="#w" x="656"/><use id="k50-13" href="#g" x="708"/><use id="k50-14" href="#g" x="760"/></g>
<g id="row51" transform="translate(0,2662)"><use id="k51-1" href="#G" x="84"/><use id="k51-2" href="#G" x="136"/><use id="k51-3" href="#W" x="188"/><use id="k51-4" href="#G" x="240"/><use id="k51-5" href="#C" x="292"/><use id="k51-6" href="#C" x="344"/><use id="k51-7" href="#C" x="396"/><use id="k51-8" href="#G" x="448"/><use id="k51-9" href="#W" x="500"/><use id="k51-10" href="#W" x="552"/><use id="k51-11" href="#G" x="604"/><use id="k51-12" href="#W" x="656"/><use id="k51-13" href="#G" x="708"/><use id="k51-14" href="#G" x="760"/></g>
<g id="row52" transform="translate(0,2714)"><use id="k52-1" href="#g" x="84"/><use id="k52-2" href="#g" x="136"/><use id="k52-3" href="#w" x="188"/><use id="k52-4" href="#w" x="240"/><use id="k52-5" href="#g" x="292"/><use id="k52-6" href="#g" x="344"/><use id="k52-7" href="#g" x="396"/><use id="k52-8" href="#w" x="448"/><use id="k52-9" href="#w" x="500"/><use id="k52-10" href="#g" x="552"/><use id="k52-11" href="#g" x="604"/><use id="k52-12" href="#w" x="656"/><use id="k52-13" href="#g" x="708"/><use id="k52-14" href="#g" x="760"/></g>
<g id="row53" transform="translate(0,2766)"><use id="k53-1" href="#G" x="84"/><use id="k53-2" href="#G" x="136"/><use id="k53-3" href="#W" x="188"/><use id="k53-4" href="#W" x="240"/><use id="k53-5" href="#W" x="292"/><use id="k53-6" href="#W" x="344"/><use id="k53-7" href="#W" x="396"/><use id="k53-8" href="#W" x="448"/><use id="k53-9" href="#G" x="500"/><use id="k53-10" href="#G" x="552"/><use id="k53-11" href="#W" x="604"/><use id="k53-12" href="#W" x="656"/><use id="k53-13" href="#G" x="708"/><use id="k53-14" href="#G" x="760"/></g>
<g id="row54" transform="translate(0,2818)"><use id="k54-1" href="#g" x="84"/><use id="k54-2" href="#g" x="136"/><use id="k54-3" href="#w" x="188"/><use id="k54-4" href="#w" x="240"/><use id="k54-5" href="#w" x="292"/><use id="k54-6" href="#w" x="344"/><use id="k54-7" href="#w" x="396"/><use id="k54-8" href="#g" x="448"/><use id="k54-9" href="#g" x="500"/><use id="k54-10" href="#c" x="552"/><use id="k54-11" href="#g" x="604"/><use id="k54-12" href="#w" x="656"/><use id="k54-13" href="#g" x="708"/><use id="k54-14" href="#g" x="760"/></g>
<g id="row55" transform="translate(0,2870)"><use id="k55-1" href="#G" x="84"/><use id="k55-2" href="#G" x="136"/><use id="k55-3" href="#W" x="188"/><use id="k55-4" href="#G" x="240"/><use id="k55-5" href="#G" x="292"/><use id="k55-6" href="#W" x="344"/><use id="k55-7" href="#G" x="396"/><use id="k55-8" href="#G" x="448"/><use id="k55-9" href="#W" x="500"/><use id="k55-10" href="#G" x="552"/><use id="k55-11" href="#G" x="604"/><use id="k55-12" href="#W" x="656"/><use id="k55-13" href="#G" x="708"/><use id="k55-14" href="#G" x="760"/></g>
<g id="row56" transform="translate(0,2922)"><use id="k56-1" href="#g" x="84"/><use id="k56-2" href="#g" x="136"/><use id="k56-3" href="#w" x="188"/><use id="k56-4" href="#g" x="240"/><use id="k56-5" href="#c" x="292"/><use id="k56-6" href="#g" x="344"/><use id="k56-7" href="#g" x="396"/><use id="k56-8" href="#w" x="448"/><use id="k56-9" href="#w" x="500"/><use id="k56-10" href="#w" x="552"/><use id="k56-11" href="#w" x="604"/><use id="k56-12" href="#w" x="656"/><use id="k56-13" href="#g" x="708"/><use id="k56-14" href="#g" x="760"/></g>
<g id="row57" transform="translate(0,2974)"><use id="k57-1" href="#G" x="84"/><use id="k57-2" href="#G" x="136"/><use id="k57-3" href="#W" x="188"/><use id="k57-4" href="#W" x="240"/><use id="k57-5" href="#G" x="292"/><use id="k57-6" href="#G" x="344"/><use id="k57-7" href="#W" x="396"/><use id="k57-8" href="#W" x="448"/><use id="k57-9" href="#W" x="500"/><use id="k57-10" href="#W" x="552"/><use id="k57-11" href="#W" x="604"/><use id="k57-12" href="#W" x="656"/><use id="k57-13" href="#G" x="708"/><use id="k57-14" href="#G" x="760"/></g>
<g id="row58" transform="translate(0,3026)"><use id="k58-1" href="#g" x="84"/><use id="k58-2" href="#g" x="136"/><use id="k58-3" href="#w" x="188"/><use id="k58-4" href="#g" x="240"/><use id="k58-5" href="#g" x="292"/><use id="k58-6" href="#w" x="344"/><use id="k58-7" href="#w" x="396"/><use id="k58-8" href="#g" x="448"/><use id="k58-9" href="#g" x="500"/><use id="k58-10" href="#g" x="552"/><use id="k58-11" href="#w" x="604"/><use id="k58-12" href="#w" x="656"/><use id="k58-13" href="#g" x="708"/><use id="k58-14" href="#g" x="760"/></g>
<g id="row59" transform="translate(0,3078)"><use id="k59-1" href="#G" x="84"/><use id="k59-2" href="#G" x="136"/><use id="k59-3" href="#W" x="188"/><use id="k59-4" href="#G" x="240"/><use id="k59-5" href="#W" x="292"/><use id="k59-6" href="#W" x="344"/><use id="k59-7" href="#G" x="396"/><use id="k59-8" href="#C" x="448"/><use id="k59-9" href="#C" x="500"/><use id="k59-10" href="#C" x="552"/><use id="k59-11" href="#G" x="604"/><use id="k59-12" href="#W" x="656"/><use id="k59-13" href="#G" x="708"/><use id="k59-14" href="#G" x="760"/></g>
<g id="row60" transform="translate(0,3130)"><use id="k60-1" href="#g" x="84"/><use id="k60-2" href="#g" x="136"/><use id="k60-3" href="#w" x="188"/><use id="k60-4" href="#g" x="240"/><use id="k60-5" href="#w" x="292"/><use id="k60-6" href="#g" x="344"/><use id="k60-7" href="#g" x="396"/><use id="k60-8" href="#c" x="448"/><use id="k60-9" href="#c" x="500"/><use id="k60-10" href="#c" x="552"/><use id="k60-11" href="#g" x="604"/><use id="k60-12" href="#w" x="656"/><use id="k60-13" href="#g" x="708"/><use id="k60-14" href="#g" x="760"/></g>
<g id="row61" transform="translate(0,3182)"><use id="k61-1" href="#G" x="84"/><use id="k61-2" href="#G" x="136"/><use id="k61-3" href="#W" x="188"/><use id="k61-4" href="#W" x="240"/><use id="k61-5" href="#G" x="292"/><use id="k61-6" href="#G" x="344"/><use id="k61-7" href="#W" x="396"/><use id="k61-8" href="#W" x="448"/><use id="k61-9" href="#W" x="500"/><use id="k61-10" href="#G" x="552"/><use id="k61-11" href="#W" x="604"/><use id="k61-12" href="#W" x="656"/><use id="k61-13" href="#G" x="708"/><use id="k61-14" href="#G" x="760"/></g>
</g>
<g id="row-numbers-left" class="n" text-anchor="end">
<text x="21" y="66">1</text><text x="21" y="118">2</text><text x="21" y="170">3</text><text x="21" y="222">4</text><text x="21" y="274">5</text><text x="21" y="326">6</text><text x="21" y="378">7</text><text x="21" y="430">8</text><text x="21" y="482">9</text><text x="21" y="534">10</text><text x="21" y="586">11</text><text x="21" y="638">12</text><text x="21" y="690">13</text><text x="21" y="742">14</text><text x="21" y="794">15</text><text x="21" y="846">16</text><text x="21" y="898">17</text><text x="21" y="950">18</text><text x="21" y="1002">19</text><text x="21" y="1054">20</text><text x="21" y="1106">21</text><text x="21" y="1158">22</text><text x="21" y="1210">23</text><text x="21" y="1262">24</text><text x="21" y="1314">25</text><text x="21" y="1366">26</text><text x="21" y="1418">27</text><text x="21" y="1470">28</text><text x="21" y="1522">29</text><text x="21" y="1574">30</text><text x="21" y="1626">31</text><text x="21" y="1678">32</text><text x="21" y="1730">33</text><text x="21" y="1782">34</text><text x="21" y="1834">35</text><text x="21" y="1886">36</text><text x="21" y="1938">37</text><text x="21" y="1990">38</text><text x="21" y="2042">39</text><text x="21" y="2094">40</text><text x="21" y="2146">41</text><text x="21" y="2198">42</text><text x="21" y="2250">43</text><text x="21" y="2302">44</text><text x="21" y="2354">45</text><text x="21" y="2406">46</text><text x="21" y="2458">47</text><text x="21" y="2510">48</text><text x="21" y="2562">49</text><text x="21" y="2614">50</text><text x="21" y="2666">51</text><text x="21" y="2718">52</text><text x="21" y="2770">53</text><text x="21" y="2822">54</text><text x="21" y="2874">55</text><text x="21" y="2926">56</text><text x="21" y="2978">57</text><text x="21" y="3030">58</text><text x="21" y="3082">59</text><text x="21" y="3134">60</text><text x="21" y="3186">61</text>
</g>
<g id="row-numbers-right" class="n">
<text x="823" y="66">1</text><text x="823" y="118">2</text><text x="823" y="170">3</text><text x="823" y="222">4</text><text x="823" y="274">5</text><text x="823" y="326">6</text><text x="823" y="378">7</text><text x="823" y="430">8</text><text x="823" y="482">9</text><text x="823" y="534">10</text><text x="823" y="586">11</text><text x="823" y="638">12</text><text x="823" y="690">13</text><text x="823" y="742">14</text><text x="823" y="794">15</text><text x="823" y="846">16</text><text x="823" y="898">17</text><text x="823" y="950">18</text><text x="823" y="1002">19</text><text x="823" y="1054">20</text><text x="823" y="1106">21</text><text x="823" y="1158">22</text><text x="823" y="1210">23</text><text x="823" y="1262">24</text><text x="823" y="1314">25</text><text x="823" y="1366">26</text><text x="823" y="1418">27</text><text x="823" y="1470">28</text><text x="823" y="1522">29</text><text x="823" y="1574">30</text><text x="823" y="1626">31</text><text x="823" y="1678">32</text><text x="823" y="1730">33</text><text x="823" y="1782">34</text><text x="823" y="1834">35</text><text x="823" y="1886">36</text><text x="823" y="1938">37</text><text x="823" y="1990">38</text><text x="823" y="2042">39</text><text x="823" y="2094">40</text><text x="823" y="2146">41</text><text x="823" y="2198">42</text><text x="823" y="2250">43</text><text x="823" y="2302">44</text><text x="823" y="2354">45</text><text x="823" y="2406">46</text><text x="823" y="2458">47</text><text x="823" y="2510">48</text><text x="823" y="2562">49</text><text x="823" y="2614">50</text><text x="823" y="2666">51</text><text x="823" y="2718">52</text><text x="823" y="2770">53</text><text x="823" y="2822">54</text><text x="823" y="2874">55</text><text x="823" y="2926">56</text><text x="823" y="2978">57</text><text x="823" y="3030">58</text><text x="823" y="3082">59</text><text x="823" y="3134">60</text><text x="823" y="3186">61</text>
</g>
<text id="watermark" x="422" y="1653" text-anchor="middle" font-family="Liberation Sans, Arial, sans-serif" font-weight="bold" font-size="15" textLength="157" lengthAdjust="spacingAndGlyphs" fill="#333" stroke="#fff" stroke-width="2.5" paint-order="stroke">BRACELETBOOK.COM</text>
</svg>
